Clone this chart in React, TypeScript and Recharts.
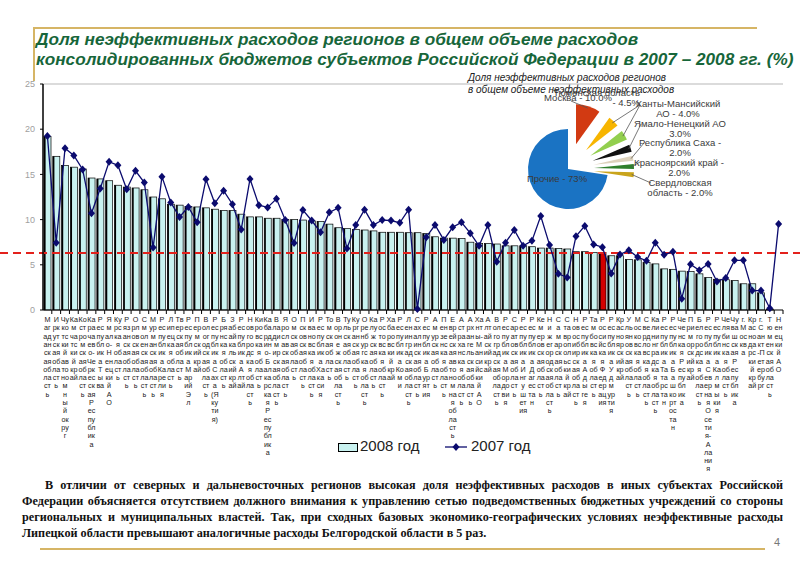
import { ComposedChart, Bar, Line, XAxis, YAxis, ReferenceLine, PieChart, Pie, Cell } from "recharts";

// регионы по убыванию доли неэффективных расходов в 2008 г.
const regions = [
  "Магаданская область", "Иркутская область", "Чукотский автономный округ", "Камчатский край",
  "Костромская область", "Карачаево-Черкесская Республика", "Республика Тыва", "Ямало-Ненецкий АО",
  "Курская область", "Рязанская область", "Орловская область", "Смоленская область",
  "Мурманская область", "Республика Карелия", "Липецкая область", "Тверская область",
  "Республика Марий Эл", "Пермский край", "Вологодская область", "Республика Саха (Якутия)",
  "Брянская область", "Забайкальский край", "Республика Алтай", "Новгородская область",
  "Кировская область", "Кабардино-Балкарская Республика", "Владимирская область", "Ярославская область",
  "Омская область", "Псковская область", "Ивановская область", "Республика Хакасия",
  "Томская область", "Воронежская область", "Тульская область", "Курганская область",
  "Оренбургская область", "Калужская область", "Ростовская область", "Хабаровский край",
  "Республика Коми", "Ленинградская область", "Сахалинская область", "Республика Бурятия",
  "Амурская область", "Пензенская область", "Еврейская автономная область", "Астраханская область",
  "Архангельская область", "Ханты-Мансийский АО", "Алтайский край", "Волгоградская область",
  "Республика Мордовия", "Саратовская область", "Республика Ингушетия", "Республика Дагестан",
  "Кемеровская область", "Нижегородская область", "Самарская область", "Ставропольский край",
  "Новосибирская область", "Республика Адыгея", "Тамбовская область", "Российская Федерация",
  "Республика Удмуртия", "Красноярский край", "Ульяновская область", "Московская область",
  "Свердловская область", "Калининградская область", "Республика Татарстан", "Республика Башкортостан",
  "Чеченская Республика", "Приморский край", "Белгородская область", "Республика Северная Осетия-Алания",
  "Республика Калмыкия", "Челябинская область", "Чувашская Республика", "г. Москва",
  "Краснодарский край", "г. Санкт-Петербург", "Тюменская область", "Ненецкий АО",
];

const share2008: (number | null)[] = [
  19.2, 17.0, 16.0, 15.8, 15.6, 14.6, 14.5, 14.3, 13.8, 13.6, 13.5, 13.3,
  12.5, 12.3, 11.7, 11.6, 11.45, 11.4, 11.3, 11.15, 11.0, 11.0, 10.6, 10.3,
  10.3, 10.15, 10.15, 10.0, 10.0, 9.95, 9.85, 9.8, 9.5, 9.1, 9.0, 8.9,
  8.85, 8.75, 8.6, 8.6, 8.6, 8.55, 8.55, 8.45, 8.1, 7.95, 7.95, 7.9,
  7.5, 7.35, 7.35, 7.3, 7.1, 7.1, 7.1, 7.0, 6.85, 6.85, 6.8, 6.75,
  6.45, 6.45, 6.35, 6.35, 6.0, 6.0, 5.6, 5.55, 5.25, 5.1, 4.55, 4.5,
  4.3, 4.25, 4.0, 3.6, 3.4, 3.35, 3.25, 2.9, 2.9, 1.9, 0.1, null,
];

const share2007 = [
  19.25, 7.45, 17.9, 17.1, 15.55, 10.7, 13.45, 16.4, 16.0, 13.35, 15.4, 14.1,
  6.9, 14.75, 11.9, 10.3, 11.4, 9.7, 14.45, 11.8, 13.2, 11.7, 8.9, 14.5,
  11.6, 11.35, 12.3, 9.95, 7.4, 11.05, 9.9, 8.6, 10.8, 11.3, 6.8, 9.4,
  11.1, 9.4, 9.95, 9.9, 9.65, 11.1, 0.1, 8.05, 9.4, 7.75, 9.15, 9.7,
  8.5, 7.1, 9.4, 5.35, 7.45, 8.85, 7.1, 7.65, 10.4, 7.2, 4.0, 3.6,
  8.15, 9.3, 7.25, 6.95, 4.05, 6.15, 6.6, 5.85, 5.45, 7.45, 6.1, 6.45,
  1.25, 5.05, 4.4, 5.1, 3.15, 3.55, 5.5, 5.5, 2.15, 2.15, 0.2, 9.5,
];

const russiaName = "Российская Федерация";
const averageLevel = 6.3;
const yTicks = [0, 5, 10, 15, 20, 25];

// доли регионов в общем объеме неэффективных расходов, %
const pieNames = [
  "Москва", "Тюменская область", "Ханты-Мансийский АО", "Ямало-Ненецкий АО",
  "Республика Саха", "Красноярский край", "Свердловская область", "Прочие",
];
const pieValues = [10, 4.5, 4, 3, 2, 2, 2, 73];
const pieColors = ["#d23a12", "#f7b500", "#92cf4e", "#111111", "#ddd2bc", "#2f7f2c", "#c9a41c", "#1a73c3"];
// how each label is broken into lines; %n = name, %p = percent
const pieLabelFormats = [
  "%n - %p", "%n\n- %p", "Ханты-Мансийский\nАО - %p", "%n\n%p",
  "%n -\n%p", "%n -\n%p", "Свердловская\nобласть - %p", "%n - %p",
];

const chartData = regions.map((region, i) => ({ region, y2008: share2008[i], y2007: share2007[i] }));

const PLOT_LEFT = 43;
const PLOT_RIGHT = 783;
const PLOT_TOP = 84;
const PLOT_BOTTOM = 310;
const Y_AXIS_W = 36;
const BAND = (PLOT_RIGHT - PLOT_LEFT) / regions.length;

// pie geometry (page coordinates)
const PIE_BOX = { left: 460, top: 60, width: 340, height: 160 };
const PIE_CENTER = { x: 568, y: 169 };
const PIE_R = 40;
const EXPLODE = 26;

const pieTotal = pieValues.reduce((a, b) => a + b, 0);
let acc = 0;
const pieSlices = pieValues.map((v, i) => {
  const start = 90 - (acc / pieTotal) * 360;
  acc += v;
  const end = 90 - (acc / pieTotal) * 360;
  const mid = ((start + end) / 2) * Math.PI / 180;
  const d = i === pieValues.length - 1 ? 0 : EXPLODE;
  return {
    name: pieNames[i], value: v, start, end, mid, color: pieColors[i],
    dx: d * Math.cos(mid), dy: -d * Math.sin(mid),
  };
});

const fmtPct = (v: number) => (v >= 50 ? v.toFixed(0) : v.toFixed(1)) + "%";

function pieLabelLines(i: number): string[] {
  const s = pieSlices[i];
  return pieLabelFormats[i].replace("%n", s.name).replace("%p", fmtPct(s.value)).split("\n");
}

// where the pie labels sit: text anchor and start of leader line
const pieLabelSpots = [
  { x: 578, y: 97, anchor: "middle", lx: 571, ly: 101 },
  { x: 640, y: 92, anchor: "end", lx: 640, ly: 105 },
  { x: 678, y: 103, anchor: "middle", lx: 640, ly: 105 },
  { x: 680, y: 123, anchor: "middle", lx: 641, ly: 124 },
  { x: 680, y: 142, anchor: "middle", lx: 644, ly: 143 },
  { x: 679, y: 162, anchor: "middle", lx: 640, ly: 162 },
  { x: 680, y: 182, anchor: "middle", lx: 651, ly: 183 },
  { x: 557, y: 178, anchor: "middle", lx: 0, ly: 0 },
];

function charW(c: string) {
  if (c === " ") return 0.28;
  if (".,()-".includes(c)) return 0.3;
  if ("МШЩЖЮФЫ".includes(c)) return 0.85;
  if ("мшщжюфы".includes(c)) return 0.72;
  if (c >= "А" && c <= "Я") return "КЧТХЬГ".includes(c) ? 0.6 : 0.68;
  if ("гтскзлпийнчьэцяё".includes(c)) return 0.5;
  return 0.55;
}

function wrapLabel(name: string, maxEm = 1.16): string[] {
  const out: string[] = [];
  for (const word of name.split(" ")) {
    let cur = "";
    let w = 0;
    for (const c of word) {
      const cw = charW(c);
      if (cur && w + cw > maxEm) {
        out.push(cur);
        cur = c;
        w = cw;
      } else {
        cur += c;
        w += cw;
      }
    }
    if (cur) out.push(cur);
  }
  return out;
}

function RegionTick(props: any) {
  const { x, y, payload } = props;
  const lines = wrapLabel(String(payload.value));
  return (
    <g>
      <line x1={x + BAND / 2} x2={x + BAND / 2} y1={PLOT_BOTTOM} y2={PLOT_BOTTOM + 4} stroke="#000" strokeWidth={1} />
      <text x={x} y={PLOT_BOTTOM + 12} textAnchor="middle" fontSize={7.2} fill="#222" fontFamily="Arial, 'Liberation Sans', sans-serif">
        {lines.map((l, i) => (
          <tspan key={i} x={x} dy={i === 0 ? 0 : 8.3}>{l}</tspan>
        ))}
      </text>
    </g>
  );
}

function CyanBar(props: any) {
  const { x, y, width, height, payload } = props;
  if (!height || height <= 0.3) return null;
  const isRussia = payload && payload.region === russiaName;
  return (
    <g>
      <rect x={x} y={y} width={width} height={height} fill={isRussia ? "#d40000" : "#c9f2f0"} stroke="#000" strokeWidth={0.7} />
      <rect x={x} y={y} width={1.6} height={height} fill="#000" />
    </g>
  );
}

function DiamondDot(props: any) {
  const { cx, cy } = props;
  if (cx == null || cy == null) return null;
  return <path d={`M${cx},${cy - 4}L${cx + 3.5},${cy}L${cx},${cy + 4}L${cx - 3.5},${cy}Z`} fill="#0b0b6e" />;
}

const paragraph = [
  "В отличии от  северных и дальневосточных регионов высокая доля неэффективных расходов в иных субъектах Российской",
  "Федерации объясняется отсутствием должного внимания к управлению сетью подведомственных бюджетных учреждений со стороны",
  "региональных и муниципальных властей. Так, при сходных базовых экономико-географических условиях неэффективные расходы",
  "Липецкой области превышают аналогичные расходы Белгородской области в 5 раз.",
];

export default function App() {
  return (
    <div style={{ position: "absolute", left: 0, top: 0, width: 800, height: 565, overflow: "hidden", background: "#fff", fontFamily: "Arial, 'Liberation Sans', sans-serif" }}>
      {/* рамка и заголовок */}
      <div style={{ position: "absolute", left: 33, top: 27, width: 724, height: 2, background: "#d6b565" }} />
      <div style={{ position: "absolute", left: 33, top: 27, width: 2, height: 54, background: "#d6b565" }} />
      <div style={{ position: "absolute", left: 36, top: 29, color: "#17663a", fontWeight: "bold", fontStyle: "italic", fontSize: 17.2, lineHeight: "20px", whiteSpace: "nowrap" }}>
        <div>Доля неэффективных расходов регионов в общем объеме расходов</div>
        <div>консолидированных бюджетов субъектов Российской Федерации в 2007 – 2008 гг. (%)</div>
      </div>

      <div style={{ position: "absolute", left: 0, top: 0 }}>
        <ComposedChart
          width={800}
          height={565}
          data={chartData}
          margin={{ top: PLOT_TOP, left: PLOT_LEFT - Y_AXIS_W, right: 800 - PLOT_RIGHT, bottom: 565 - PLOT_BOTTOM - 10 }}
        >
          <XAxis
            dataKey="region"
            interval={0}
            height={10}
            tick={RegionTick}
            tickLine={false}
            axisLine={{ stroke: "#000", strokeWidth: 1.2 }}
          />
          <YAxis
            domain={[0, 25]}
            ticks={yTicks}
            width={Y_AXIS_W}
            tickSize={3}
            tickMargin={5}
            tick={{ fontSize: 9, fill: "#a0a0a0" }}
            tickLine={{ stroke: "#000" }}
            axisLine={{ stroke: "#000", strokeWidth: 1.5 }}
          />
          <ReferenceLine y={25} stroke="#cfcfcf" strokeWidth={1.5} />
          <Bar dataKey="y2008" name="2008 год" barSize={7} shape={CyanBar} isAnimationActive={false} />
          <ReferenceLine
            y={averageLevel}
            stroke="#e3211c"
            shape={(p: any) => (
              <line x1={0} x2={800} y1={p.y1} y2={p.y2} stroke="#e3211c" strokeWidth={2} strokeDasharray="8 5" />
            )}
          />
          <Line
            dataKey="y2007"
            name="2007 год"
            type="linear"
            stroke="#0b0b6e"
            strokeWidth={1.3}
            dot={DiamondDot}
            activeDot={false}
            isAnimationActive={false}
          />
        </ComposedChart>
      </div>

      {/* легенда */}
      <div style={{ position: "absolute", left: 338, top: 443, width: 18, height: 7, background: "#c9f2f0", border: "1px solid #000" }} />
      <div style={{ position: "absolute", left: 360, top: 437, fontSize: 15, color: "#222", whiteSpace: "nowrap" }}>2008 год</div>
      <svg style={{ position: "absolute", left: 445, top: 440 }} width={24} height={14}>
        <line x1={0} x2={22} y1={7} y2={7} stroke="#0b0b6e" strokeWidth={1.3} />
        <path d="M11,3L14.5,7L11,11L7.5,7Z" fill="#0b0b6e" />
      </svg>
      <div style={{ position: "absolute", left: 471, top: 437, fontSize: 15, color: "#222", whiteSpace: "nowrap" }}>2007 год</div>

      {/* врезка: круговая диаграмма */}
      <div style={{ position: "absolute", left: 468, top: 72, fontStyle: "italic", fontSize: 10, lineHeight: "12px", color: "#222", whiteSpace: "nowrap" }}>
        <div>Доля неэффективных расходов регионов</div>
        <div>в общем объеме неэффективных расходов</div>
      </div>
      <div style={{ position: "absolute", left: PIE_BOX.left, top: PIE_BOX.top }}>
        <PieChart width={PIE_BOX.width} height={PIE_BOX.height} margin={{ top: 0, left: 0, right: 0, bottom: 0 }}>
          {pieSlices.map((s, i) => (
            <Pie
              key={i}
              data={[s]}
              dataKey="value"
              nameKey="name"
              cx={PIE_CENTER.x - PIE_BOX.left + s.dx}
              cy={PIE_CENTER.y - PIE_BOX.top + s.dy}
              outerRadius={PIE_R}
              startAngle={s.start}
              endAngle={s.end}
              stroke="none"
              isAnimationActive={false}
            >
              <Cell fill={s.color} />
            </Pie>
          ))}
        </PieChart>
      </div>
      <svg style={{ position: "absolute", left: 0, top: 0, pointerEvents: "none" }} width={800} height={565}>
        {pieSlices.map((s, i) => {
          const spot = pieLabelSpots[i];
          const lines = pieLabelLines(i);
          const ox = PIE_CENTER.x + s.dx + (PIE_R - 2) * Math.cos(s.mid);
          const oy = PIE_CENTER.y + s.dy - (PIE_R - 2) * Math.sin(s.mid);
          return (
            <g key={i}>
              {i < pieSlices.length - 1 && (
                <line x1={spot.lx} y1={spot.ly} x2={ox} y2={oy} stroke="#555" strokeWidth={0.8} />
              )}
              <text x={spot.x} y={spot.y + 3.5} textAnchor={spot.anchor as any} fontSize={9.5} fill="#3a3a3a" fontFamily="Arial, 'Liberation Sans', sans-serif">
                {lines.map((l, k) => (
                  <tspan key={k} x={spot.x} dy={k === 0 ? 0 : 10}>{l}</tspan>
                ))}
              </text>
            </g>
          );
        })}
      </svg>

      {/* текст */}
      <div style={{ position: "absolute", left: 22, top: 477, width: 761, fontFamily: "'Times New Roman', 'Liberation Serif', serif", fontWeight: "bold", fontSize: 12.2, lineHeight: "16px", color: "#111" }}>
        {paragraph.map((t, i) => (
          <div
            key={i}
            style={{
              whiteSpace: "nowrap",
              textAlign: "justify",
              textAlignLast: i < paragraph.length - 1 ? "justify" : "left",
              paddingLeft: i === 0 ? 23 : 0,
            }}
          >
            {t}
          </div>
        ))}
      </div>
      <div style={{ position: "absolute", left: 40, top: 548, width: 725, height: 2, background: "#d6b565" }} />
      <div style={{ position: "absolute", left: 774, top: 536, fontSize: 11, color: "#777" }}>4</div>
    </div>
  );
}
